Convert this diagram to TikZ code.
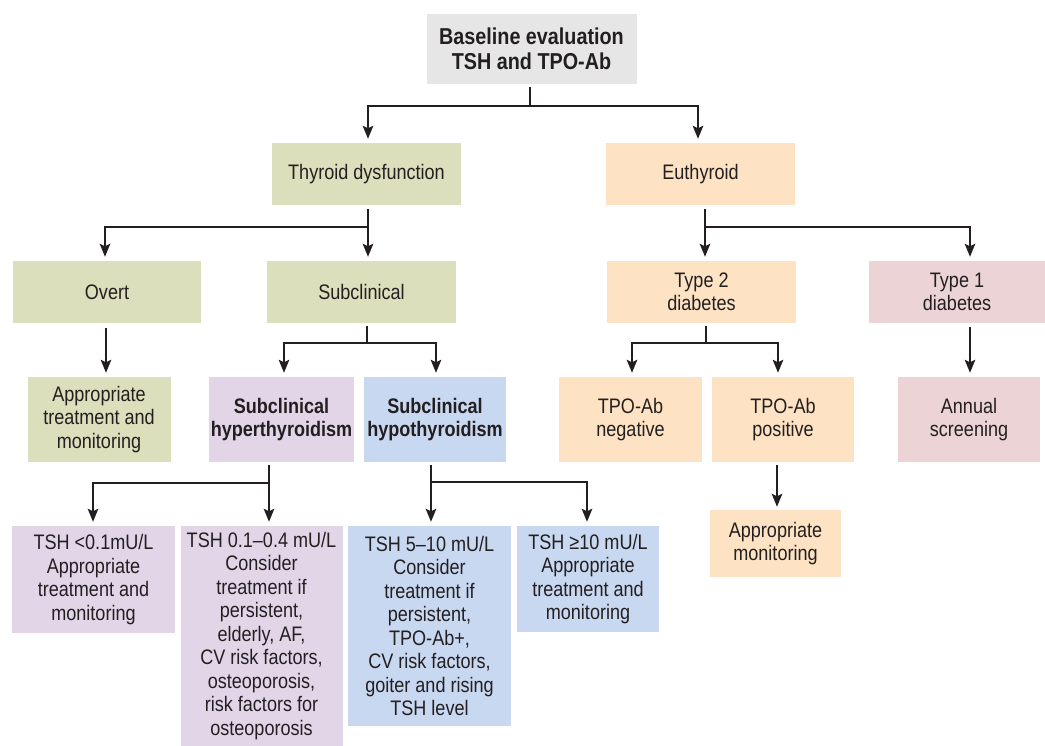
\documentclass[tikz,border=0pt]{standalone}
\usepackage{fontspec}
\setmainfont{Liberation Sans}[FakeStretch=0.86]
\usetikzlibrary{arrows.meta,calc}
\definecolor{cgray}{HTML}{E6E6E6}
\definecolor{cgreen}{HTML}{DBDFBB}
\definecolor{corange}{HTML}{FDE3C3}
\definecolor{cpink}{HTML}{ECD3D5}
\definecolor{cpurple}{HTML}{E3D5E8}
\definecolor{cblue}{HTML}{C9D8F1}
\definecolor{ink}{HTML}{231F20}
\tikzset{
  box/.style={rectangle, inner sep=0pt, align=center, text=ink,
    font=\fontsize{21}{23.5}\selectfont},
  boldbox/.style={box, font=\bfseries\fontsize{21}{23.5}\selectfont},
  line/.style={draw=ink, line width=2pt},
  arr/.style={line, -{Stealth[length=13pt,width=10.5pt,inset=2.5pt]}}
}
\begin{document}
\begin{tikzpicture}[x=1pt,y=-1pt]
\useasboundingbox (0,0) rectangle (1045,746);
% row 0
\node[box, fill=cgray, minimum width=210pt, minimum height=70pt,
  font=\bfseries\fontsize{23}{25}\selectfont] (base) at (531.5,49) {Baseline evaluation\\TSH and TPO-Ab};
% row 1
\node[box, fill=cgreen, minimum width=189pt, minimum height=62pt] (thy) at (366.5,174) {Thyroid dysfunction};
\node[box, fill=corange, minimum width=189pt, minimum height=62pt] (eu) at (700.5,174) {Euthyroid};
% row 2
\node[box, fill=cgreen, minimum width=188pt, minimum height=62pt] (overt) at (107,292) {Overt};
\node[box, fill=cgreen, minimum width=189pt, minimum height=62pt] (subc) at (361.5,292) {Subclinical};
\node[box, fill=corange, minimum width=189pt, minimum height=62pt] (type2) at (701.5,292) {Type 2\\diabetes};
\node[box, fill=cpink, minimum width=176pt, minimum height=62pt] (type1) at (957,292) {Type 1\\diabetes};
% row 3
\node[box, fill=cgreen, minimum width=143pt, minimum height=85pt] (appr) at (99,419.5) {Appropriate\\treatment and\\monitoring};
\node[boldbox, fill=cpurple, minimum width=145pt, minimum height=85pt] (hyper) at (281.5,419.5) {Subclinical\\hyperthyroidism};
\node[boldbox, fill=cblue, minimum width=142pt, minimum height=85pt] (hypo) at (435,419.5) {Subclinical\\hypothyroidism};
\node[box, fill=corange, minimum width=143pt, minimum height=85pt] (neg) at (630.5,419.5) {TPO-Ab\\negative};
\node[box, fill=corange, minimum width=142pt, minimum height=85pt] (pos) at (783,419.5) {TPO-Ab\\positive};
\node[box, fill=cpink, minimum width=142pt, minimum height=85pt] (annual) at (969,419.5) {Annual\\screening};
% row 4
\node[box, fill=corange, minimum width=131pt, minimum height=67pt] (mon) at (775.5,543.5) {Appropriate\\monitoring};
\node[box, fill=cpurple, minimum width=163pt, minimum height=107pt] (tsh1) at (93.5,579.5) {TSH <0.1mU/L\\Appropriate\\treatment and\\monitoring};
\node[box, fill=cpurple, minimum width=162pt, minimum height=220pt] (tsh2) at (261.5,636) {TSH 0.1–0.4 mU/L\\Consider\\treatment if\\persistent,\\elderly, AF,\\CV risk factors,\\osteoporosis,\\risk factors for\\osteoporosis};
\node[box, fill=cblue, minimum width=163pt, minimum height=200pt] (tsh3) at (429.5,626) {TSH 5–10 mU/L\\Consider\\treatment if\\persistent,\\TPO-Ab+,\\CV risk factors,\\goiter and rising\\TSH level};
\node[box, fill=cblue, minimum width=142pt, minimum height=106pt] (tsh4) at (588,579) {TSH ≥10 mU/L\\Appropriate\\treatment and\\monitoring};
% junctions
\coordinate (j1) at ($(base.south)+(-2,22)$);
\coordinate (j2) at ($(thy.south)+(1.5,21.5)$);
\coordinate (j3) at ($(eu.south)+(4.5,21.5)$);
\coordinate (j4) at ($(subc.south)+(5.5,20)$);
\coordinate (j5) at ($(type2.south)+(4.5,20)$);
\coordinate (j6) at ($(hyper.south)+(-12.5,21)$);
\coordinate (j7) at ($(hypo.south)+(-4,20)$);
% connectors
\draw[arr] ($(base.south)+(-2,3)$) -- (j1) -| ($(thy.north)+(1.5,-4)$);
\draw[arr] ($(base.south)+(-2,3)$) -- (j1) -| ($(eu.north)+(-2.5,-4)$);
\draw[arr] ($(thy.south)+(1.5,4)$) -- (j2) -| ($(overt.north)+(-2,-4)$);
\draw[arr] ($(thy.south)+(1.5,4)$) -- ($(j2 |- subc.north)+(0,-4)$);
\draw[arr] ($(eu.south)+(4.5,4)$) -- ($(j3 |- type2.north)+(0,-4)$);
\draw[arr] ($(eu.south)+(4.5,4)$) -- (j3) -| ($(annual.north |- type1.north)+(1,-4)$);
\draw[arr] ($(overt.south)+(-1,5)$) -- ($(overt.south |- appr.north)+(-1,-4)$);
\draw[arr] ($(subc.south)+(5.5,3)$) -- (j4) -| ($(hyper.north)+(2.5,-4)$);
\draw[arr] ($(subc.south)+(5.5,3)$) -- (j4) -| ($(hypo.north)+(1,-4)$);
\draw[arr] ($(type2.south)+(4.5,3)$) -- (j5) -| ($(neg.north)+(1.5,-4)$);
\draw[arr] ($(type2.south)+(4.5,3)$) -- (j5) -| ($(pos.north)+(-5,-4)$);
\draw[arr] ($(annual.north |- type1.south)+(1,4)$) -- ($(annual.north)+(1,-4)$);
\draw[arr] ($(pos.south)+(-6,3)$) -- ($(mon.north)+(1.5,-3)$);
\draw[arr] ($(hyper.south)+(-12.5,3)$) -- (j6) -| ($(tsh1.north)+(-0.5,-4)$);
\draw[arr] ($(hyper.south)+(-12.5,3)$) -- ($(j6 |- tsh2.north)+(0,-4)$);
\draw[arr] ($(hypo.south)+(-4,3)$) -- ($(j7 |- tsh3.north)+(0,-4)$);
\draw[arr] ($(hypo.south)+(-4,3)$) -- (j7) -| ($(tsh4.north)+(-1,-4)$);
\end{tikzpicture}
\end{document}
